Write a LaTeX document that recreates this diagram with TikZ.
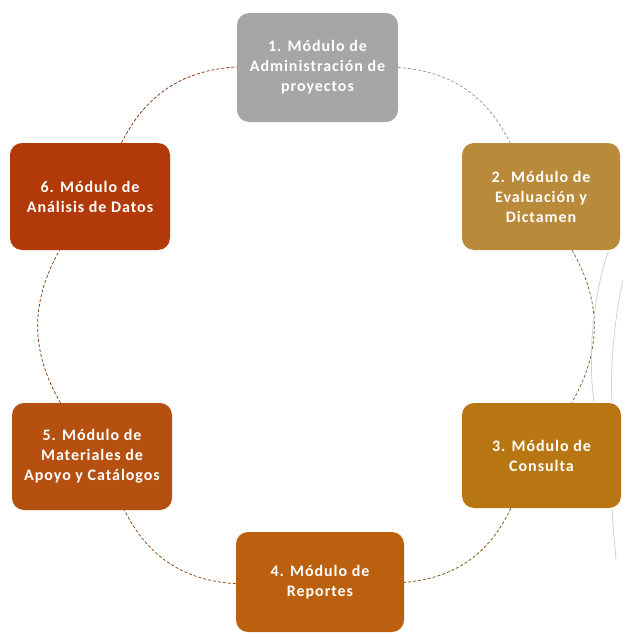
\documentclass[tikz,border=0pt]{standalone}
\usepackage{fontspec}
\setmainfont{Carlito}[LetterSpace=6]
\definecolor{cA}{RGB}{166,166,166}
\definecolor{cB}{RGB}{184,138,58}
\definecolor{cC}{RGB}{184,118,18}
\definecolor{cD}{RGB}{186,96,14}
\definecolor{cE}{RGB}{182,80,16}
\definecolor{cF}{RGB}{178,58,10}
\tikzset{
  modbox/.style={rounded corners=12pt, align=center, text=white,
    font=\fontsize{16}{20}\selectfont\bfseries, inner sep=2pt},
  ring/.style={line width=0.75pt, densely dashed},
  ghost/.style={line width=0.8pt, gray!35}
}
\begin{document}
\begin{tikzpicture}[x=1pt,y=-1pt]
\useasboundingbox (0,0) rectangle (623,634);
\node[modbox, fill=cA, minimum width=161pt, minimum height=109pt] (b1) at (317.5,67.5) {1. Módulo de\\Administración de\\proyectos};
\node[modbox, fill=cB, minimum width=158pt, minimum height=107pt] (b2) at (541,196.5) {2. Módulo de\\Evaluación y\\Dictamen};
\node[modbox, fill=cC, minimum width=159pt, minimum height=105pt] (b3) at (541.5,455.5) {3. Módulo de\\Consulta};
\node[modbox, fill=cD, minimum width=168pt, minimum height=100pt] (b4) at (320,582) {4. Módulo de\\Reportes};
\node[modbox, fill=cE, minimum width=160pt, minimum height=107pt] (b5) at (92,456.5) {5. Módulo de\\Materiales de\\Apoyo y Catálogos};
\node[modbox, fill=cF, minimum width=160pt, minimum height=107pt] (b6) at (90,196.5) {6. Módulo de\\Análisis de Datos};
\draw[ring, color=gray!80] (b1) to[bend left=30] (b2);
\draw[ring, color=cB!70!black] (b2) to[bend left=30] (b3);
\draw[ring, color=cC!70!black] (b3) to[bend left=30] (b4);
\draw[ring, color=cD!75!black] (b4) to[bend left=30] (b5);
\draw[ring, color=cE!75!black] (b5) to[bend left=30] (b6);
\draw[ring, color=cF!80!black] (b6) to[bend left=30] (b1);
\coordinate (g1) at (608,252);
\coordinate (g2) at (594,403);
\coordinate (g3) at (623,280);
\coordinate (g4) at (612,403);
\coordinate (g5) at (612,508);
\coordinate (g6) at (616,560);
\draw[ghost] (g1) .. controls (592,300) and (588,360) .. (g2);
\draw[ghost] (g3) .. controls (614,320) and (610,370) .. (g4);
\draw[ghost] (g5) .. controls (613,530) and (615,545) .. (g6);
\end{tikzpicture}
\end{document}
